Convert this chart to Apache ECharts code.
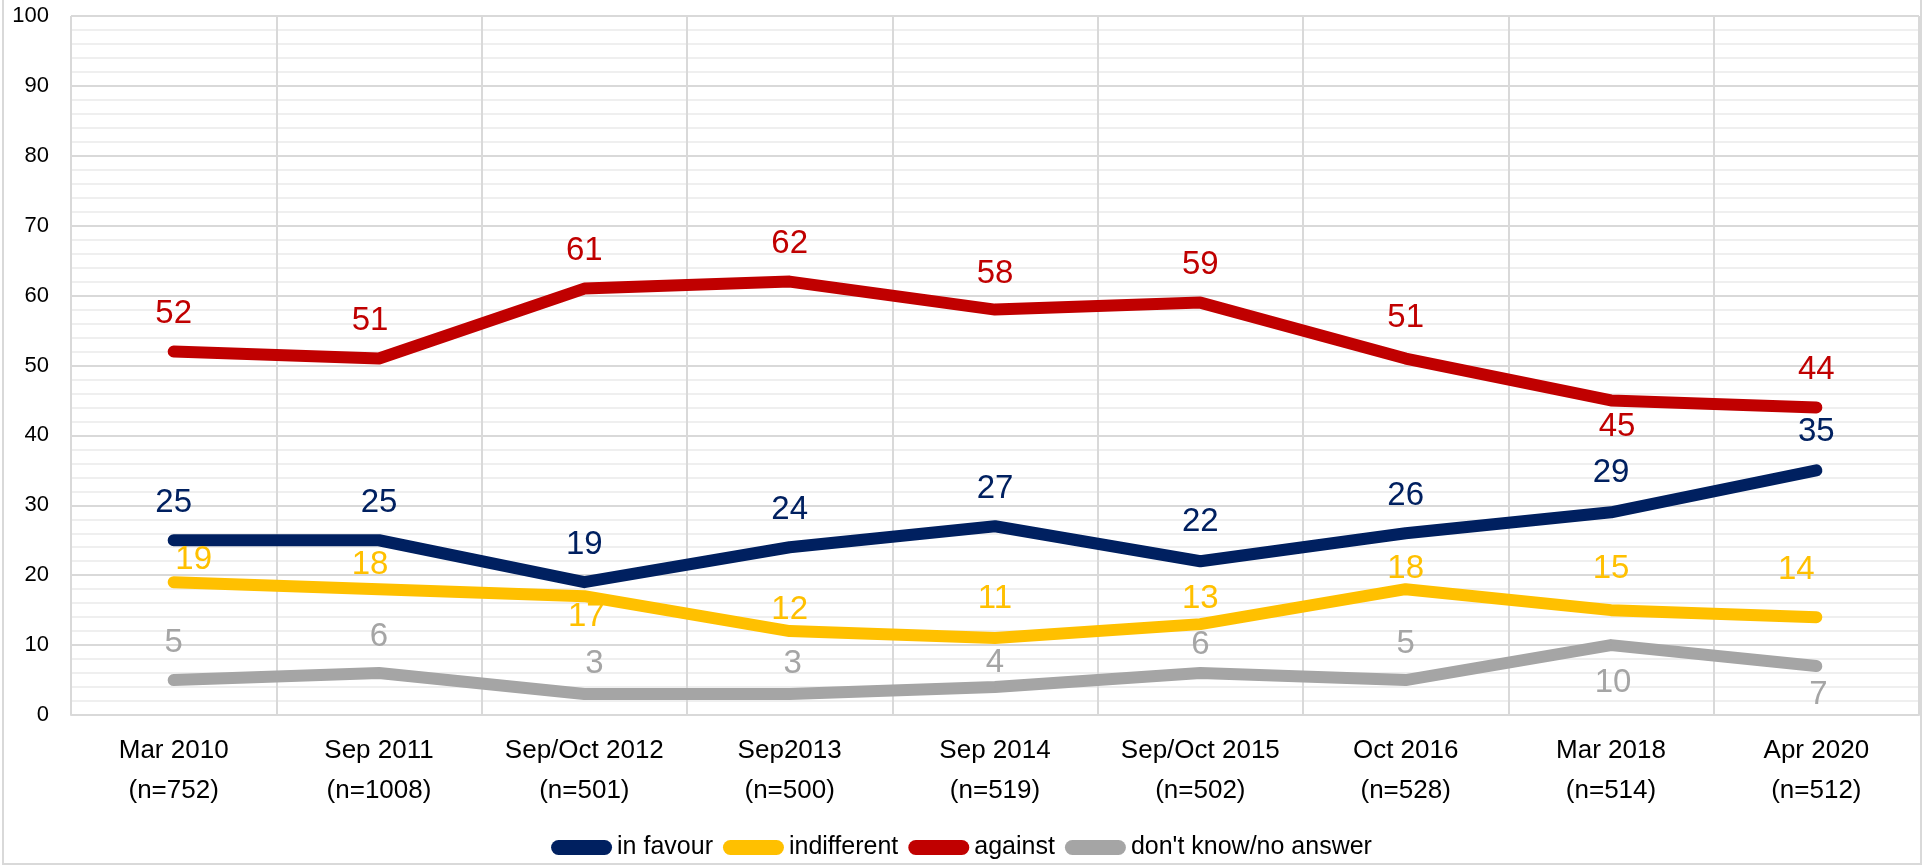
<!DOCTYPE html>
<html>
<head>
<meta charset="utf-8">
<script src="https://cdn.jsdelivr.net/npm/echarts@6/dist/echarts.min.js"></script>
<style>
  html, body { margin: 0; padding: 0; background: #fff; }
  #main { width: 1923px; height: 866px; }
</style>
</head>
<body>
<div id="main"></div>
<script>
var categories = ['Mar 2010', 'Sep 2011', 'Sep/Oct 2012', 'Sep2013', 'Sep 2014', 'Sep/Oct 2015', 'Oct 2016', 'Mar 2018', 'Apr 2020'];
var sampleSizes = ['(n=752)', '(n=1008)', '(n=501)', '(n=500)', '(n=519)', '(n=502)', '(n=528)', '(n=514)', '(n=512)'];

var inFavour = [25, 25, 19, 24, 27, 22, 26, 29, 35];
var indifferent = [19, 18, 17, 12, 11, 13, 18, 15, 14];
var against = [52, 51, 61, 62, 58, 59, 51, 45, 44];
var dontKnow = [5, 6, 3, 3, 4, 6, 5, 10, 7];

// which points have their label under the line
var belowLabels = {
  'in favour': [],
  'indifferent': [2],
  'against': [7],
  "don't know/no answer": [7, 8]
};

// hand-placed label nudges [dx, dy], like the moved labels in the original
var labelNudge = {
  'in favour': [[0, 0], [0, 0], [0, 0], [0, 0], [0, 0], [0, -2], [0, 0], [0, -2], [0, -1]],
  'indifferent': [[20, 15], [-9, 13], [2, -17], [0, 16], [0, -2], [0, 12], [0, 17], [0, -4], [-20, -10]],
  'against': [[0, 0], [-9, 0], [0, 0], [0, 0], [0, 2], [0, 0], [0, -3], [6, -11], [0, 0]],
  "don't know/no answer": [[0, 0], [0, 1], [10, 7], [3, 7], [0, 13], [0, 9], [0, 1], [2, 0], [2, -9]]
};

var chart = echarts.init(document.getElementById('main'));

function makeSeries(name, values, color) {
  var below = belowLabels[name];
  var nudge = labelNudge[name];
  var data = values.map(function (v, i) {
    var item = { value: v, label: { offset: nudge[i] } };
    if (below.indexOf(i) >= 0) {
      item.label.position = 'bottom';
    }
    return item;
  });
  return {
    name: name,
    type: 'line',
    data: data,
    symbol: 'circle',
    symbolSize: 2,
    showSymbol: true,
    showAllSymbol: true,
    itemStyle: { color: color },
    color: color,
    lineStyle: { width: 12, color: color, cap: 'round', join: 'round' },
    label: {
      show: true,
      position: 'top',
      distance: 20,
      color: color,
      fontSize: 33,
      fontFamily: 'Liberation Sans, Arial, sans-serif'
    },
    emphasis: { disabled: true },
    animation: false
  };
}

var legendIcon = 'path://M7.5,0 L53.5,0 A7.5,7.5 0 0 1 53.5,15 L7.5,15 A7.5,7.5 0 0 1 7.5,0 Z';

var option = {
  backgroundColor: '#fff',
  textStyle: { fontFamily: 'Liberation Sans, Arial, sans-serif' },
  graphic: [{
    type: 'rect',
    shape: { x: 3, y: -2, width: 1918, height: 866 },
    style: { fill: 'none', stroke: '#d9d9d9', lineWidth: 2 },
    silent: true
  }],
  grid: { left: 71, right: 4, top: 16, bottom: 151 },
  legend: {
    top: 830,
    left: 'center',
    icon: legendIcon,
    itemWidth: 61,
    itemHeight: 15,
    itemGap: 10,
    itemTextGap: 3,
    textStyle: { fontSize: 25, color: '#000' },
    data: ['in favour', 'indifferent', 'against', "don't know/no answer"]
  },
  xAxis: {
    type: 'category',
    data: categories,
    boundaryGap: true,
    axisLine: { lineStyle: { color: '#d9d9d9', width: 2 } },
    axisTick: { show: false },
    splitLine: { show: true, lineStyle: { color: '#d9d9d9', width: 2 } },
    axisLabel: {
      color: '#000',
      fontSize: 26,
      lineHeight: 40,
      margin: 16,
      interval: 0,
      formatter: function (val, idx) {
        return val + '\n' + sampleSizes[idx];
      }
    }
  },
  yAxis: {
    type: 'value',
    min: 0,
    max: 100,
    interval: 10,
    axisLine: { show: false },
    axisTick: { show: false },
    axisLabel: { color: '#000', fontSize: 22, margin: 22 },
    splitLine: { lineStyle: { color: '#d9d9d9', width: 2 } },
    minorTick: { show: false, splitNumber: 5 },
    minorSplitLine: { show: true, lineStyle: { color: '#efefef', width: 2 } }
  },
  series: [
    makeSeries('in favour', inFavour, '#002060'),
    makeSeries('indifferent', indifferent, '#FFC000'),
    makeSeries('against', against, '#C00000'),
    makeSeries("don't know/no answer", dontKnow, '#A5A5A5')
  ]
};

chart.setOption(option);
</script>
</body>
</html>
